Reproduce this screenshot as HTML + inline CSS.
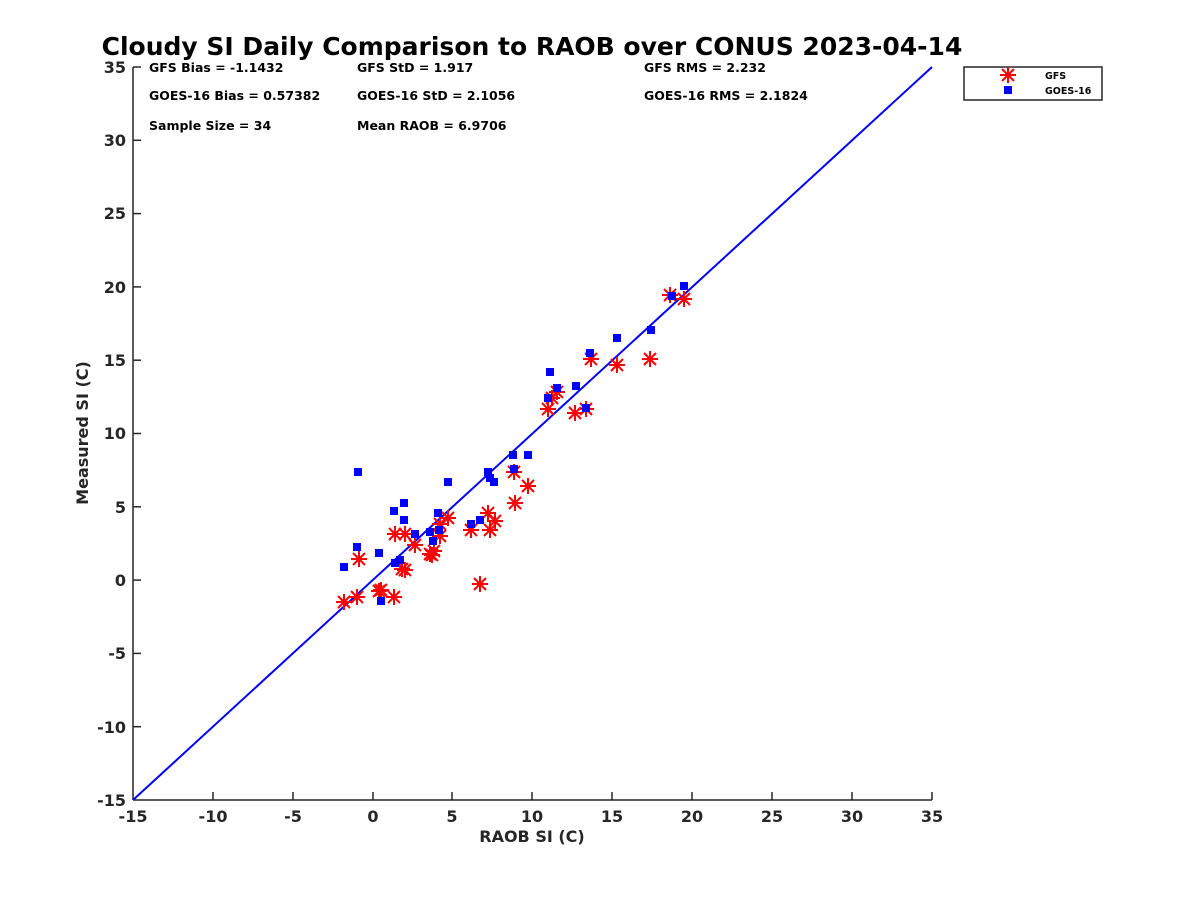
<!DOCTYPE html>
<html><head><meta charset="utf-8"><style>
html,body{margin:0;padding:0;background:#fff;}
svg{display:block;font-family:"DejaVu Sans","Liberation Sans",sans-serif;font-weight:bold;}
</style></head><body>
<svg width="1200" height="900" viewBox="0 0 1200 900">
<defs>
<g id="s" stroke="#ff0000" stroke-width="2"><line x1="-8" y1="0" x2="8" y2="0"/><line x1="0" y1="-8" x2="0" y2="8"/><line x1="-6" y1="-6" x2="6" y2="6"/><line x1="-6" y1="6" x2="6" y2="-6"/></g>
<rect id="q" x="-4" y="-4" width="8" height="8" fill="#0000ff"/>
</defs>
<text x="532" y="55" font-size="25" text-anchor="middle" fill="#000">Cloudy SI Daily Comparison to RAOB over CONUS 2023-04-14</text>
<g stroke="#262626" stroke-width="1.5" fill="none">
<line x1="133" y1="67" x2="133" y2="800"/><line x1="133" y1="800" x2="932" y2="800"/>
<line x1="133" y1="67" x2="141" y2="67"/><line x1="133" y1="140.3" x2="141" y2="140.3"/><line x1="133" y1="213.6" x2="141" y2="213.6"/><line x1="133" y1="286.9" x2="141" y2="286.9"/><line x1="133" y1="360.2" x2="141" y2="360.2"/><line x1="133" y1="433.5" x2="141" y2="433.5"/><line x1="133" y1="506.8" x2="141" y2="506.8"/><line x1="133" y1="580.1" x2="141" y2="580.1"/><line x1="133" y1="653.4" x2="141" y2="653.4"/><line x1="133" y1="726.7" x2="141" y2="726.7"/>
<line x1="213" y1="800" x2="213" y2="792"/><line x1="293" y1="800" x2="293" y2="792"/><line x1="373" y1="800" x2="373" y2="792"/><line x1="452" y1="800" x2="452" y2="792"/><line x1="532" y1="800" x2="532" y2="792"/><line x1="612" y1="800" x2="612" y2="792"/><line x1="692" y1="800" x2="692" y2="792"/><line x1="772" y1="800" x2="772" y2="792"/><line x1="852" y1="800" x2="852" y2="792"/><line x1="932" y1="800" x2="932" y2="792"/>
</g>
<g font-size="16" fill="#262626" text-anchor="end">
<text x="126" y="73">35</text><text x="126" y="146">30</text><text x="126" y="219">25</text><text x="126" y="293">20</text><text x="126" y="366">15</text><text x="126" y="439">10</text><text x="126" y="513">5</text><text x="126" y="586">0</text><text x="126" y="659">-5</text><text x="126" y="733">-10</text><text x="126" y="806">-15</text>
</g>
<g font-size="16" fill="#262626" text-anchor="middle">
<text x="133" y="822">-15</text><text x="213" y="822">-10</text><text x="293" y="822">-5</text><text x="373" y="822">0</text><text x="452" y="822">5</text><text x="532" y="822">10</text><text x="612" y="822">15</text><text x="692" y="822">20</text><text x="772" y="822">25</text><text x="852" y="822">30</text><text x="932" y="822">35</text>
</g>
<text x="532" y="842" font-size="16" fill="#262626" text-anchor="middle">RAOB SI (C)</text>
<text transform="translate(88,433) rotate(-90)" font-size="16" fill="#262626" text-anchor="middle">Measured SI (C)</text>
<g font-size="12.5" fill="#000">
<text x="149" y="72">GFS Bias = -1.1432</text><text x="357" y="72">GFS StD = 1.917</text><text x="644" y="72">GFS RMS = 2.232</text>
<text x="149" y="100">GOES-16 Bias = 0.57382</text><text x="357" y="100">GOES-16 StD = 2.1056</text><text x="644" y="100">GOES-16 RMS = 2.1824</text>
<text x="149" y="130">Sample Size = 34</text><text x="357" y="130">Mean RAOB = 6.9706</text>
</g>
<line x1="133" y1="800" x2="932" y2="67" stroke="#0000ff" stroke-width="2"/>
<g>
<use href="#s" x="344" y="602"/><use href="#s" x="357" y="597"/><use href="#s" x="359" y="559"/><use href="#s" x="381" y="590"/><use href="#s" x="379" y="591"/><use href="#s" x="394" y="597"/><use href="#s" x="395" y="534"/><use href="#s" x="405" y="534"/><use href="#s" x="402" y="569"/><use href="#s" x="405" y="570"/><use href="#s" x="415" y="545"/><use href="#s" x="430" y="554"/><use href="#s" x="434" y="551"/><use href="#s" x="432" y="555"/><use href="#s" x="440" y="536"/><use href="#s" x="440" y="524"/><use href="#s" x="448" y="518"/><use href="#s" x="471" y="530"/><use href="#s" x="488" y="513"/><use href="#s" x="490" y="530"/><use href="#s" x="495" y="521"/><use href="#s" x="480" y="584"/><use href="#s" x="514" y="472"/><use href="#s" x="515" y="503"/><use href="#s" x="528" y="486"/><use href="#s" x="548" y="409"/><use href="#s" x="552" y="398"/><use href="#s" x="557" y="392"/><use href="#s" x="575" y="413"/><use href="#s" x="586" y="409"/><use href="#s" x="591" y="359"/><use href="#s" x="617" y="365"/><use href="#s" x="650" y="359"/><use href="#s" x="670" y="295"/><use href="#s" x="684" y="299"/>
</g>
<g>
<use href="#q" x="358" y="472"/><use href="#q" x="357" y="547"/><use href="#q" x="344" y="567"/><use href="#q" x="379" y="553"/><use href="#q" x="381" y="601"/><use href="#q" x="394" y="511"/><use href="#q" x="404" y="503"/><use href="#q" x="404" y="520"/><use href="#q" x="395" y="563"/><use href="#q" x="400" y="560"/><use href="#q" x="415" y="534"/><use href="#q" x="430" y="532"/><use href="#q" x="433" y="541"/><use href="#q" x="438" y="513"/><use href="#q" x="439" y="530"/><use href="#q" x="448" y="482"/><use href="#q" x="471" y="524"/><use href="#q" x="480" y="520"/><use href="#q" x="488" y="472"/><use href="#q" x="490" y="478"/><use href="#q" x="494" y="482"/><use href="#q" x="513" y="455"/><use href="#q" x="514" y="469"/><use href="#q" x="528" y="455"/><use href="#q" x="548" y="398"/><use href="#q" x="550" y="372"/><use href="#q" x="557" y="388"/><use href="#q" x="576" y="386"/><use href="#q" x="586" y="408"/><use href="#q" x="590" y="353"/><use href="#q" x="617" y="338"/><use href="#q" x="651" y="330"/><use href="#q" x="672" y="296"/><use href="#q" x="684" y="286"/>
</g>
<rect x="964" y="67" width="138" height="33" fill="#fff" stroke="#262626" stroke-width="1.5"/>
<use href="#s" x="1008" y="75"/>
<use href="#q" x="1008" y="90"/>
<g font-size="9.5" fill="#000"><text x="1045" y="79">GFS</text><text x="1045" y="94">GOES-16</text></g>
</svg>
</body></html>
